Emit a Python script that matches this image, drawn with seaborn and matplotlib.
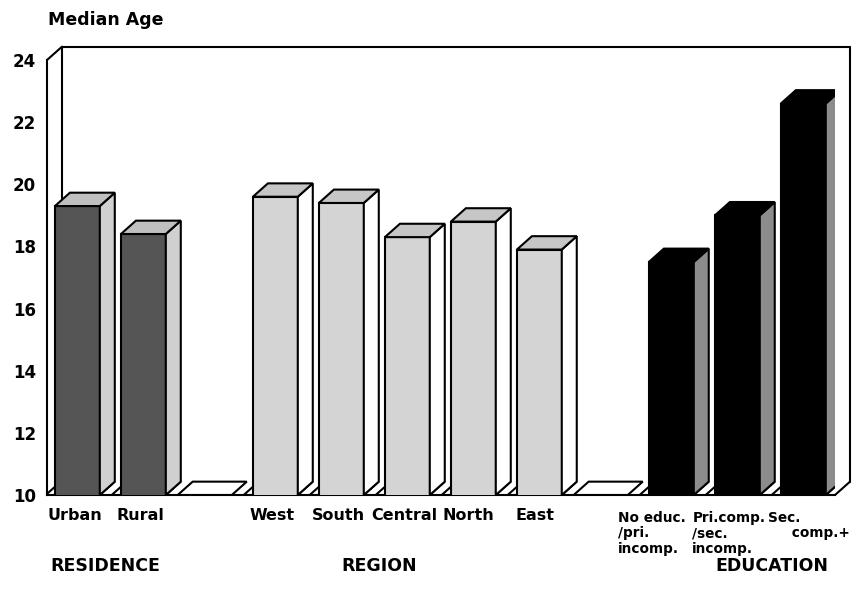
import numpy as np
import pandas as pd
import matplotlib.pyplot as plt
import seaborn as sns
from matplotlib.patches import Polygon
from matplotlib.lines import Line2D
from matplotlib.transforms import ScaledTranslation, blended_transform_factory

# data
categories = ['Urban', 'Rural', 'West', 'South', 'Central', 'North', 'East',
              'No educ.\n/pri.\nincomp.', 'Pri.comp.\n/sec.\nincomp.', 'Sec.\n     comp.+']
groups = ['RESIDENCE', 'RESIDENCE', 'REGION', 'REGION', 'REGION', 'REGION', 'REGION',
          'EDUCATION', 'EDUCATION', 'EDUCATION']
median_age = [19.3, 18.4, 19.6, 19.4, 18.3, 18.8, 17.9, 17.5, 19.0, 22.6]
group_names = ['RESIDENCE', 'REGION', 'EDUCATION']
y_ticks = [10, 12, 14, 16, 18, 20, 22, 24]

# face colours per group: front, side, top
face_colors = {
    'RESIDENCE': ('#555555', '#d0d0d0', '#c0c0c0'),
    'REGION': ('#d4d4d4', '#ffffff', '#c6c6c6'),
    'EDUCATION': ('#000000', '#8c8c8c', '#000000'),
}

# slot order: an empty slot between the groups
slot_order = []
for i, g in enumerate(group_names):
    if i > 0:
        slot_order.append('gap%d' % i)
    slot_order += [c for c, gg in zip(categories, groups) if gg == g]

df = pd.DataFrame({'label': categories, 'group': groups, 'age': median_age})
group_of = dict(zip(categories, groups))

sns.set_style('white')
plt.rcParams['font.family'] = ['DejaVu Sans']
plt.rcParams['font.weight'] = 'bold'
plt.rcParams['text.color'] = 'black'
plt.rcParams['xtick.color'] = 'black'
plt.rcParams['ytick.color'] = 'black'

fig = plt.figure(figsize=(8.58, 6.05), dpi=100)
ax = fig.add_axes([0.0548, 0.1818, 0.9184, 0.719])

bw = 0.68              # bar width
dx, dy = 0.227, 0.43   # depth offset in data units
lw = 1.5

sns.barplot(data=df, x='label', y='age', hue='group', order=slot_order,
            palette={g: face_colors[g][0] for g in group_names}, dodge=False,
            width=bw, edgecolor='black', linewidth=lw, legend=False, ax=ax, zorder=3)

ax.set_ylim(10, 24)
ax.set_xlim(-0.46, len(slot_order) - 0.52)
bars = [p for p in ax.patches]

# floor slabs under every slot
for s in range(len(slot_order)):
    xa, xb = s - 0.48, s + bw / 2
    ax.add_patch(Polygon([(xa, 10), (xb, 10), (xb + dx, 10 + dy), (xa + dx, 10 + dy)],
                         closed=True, facecolor='white', edgecolor='black', lw=lw, zorder=1))

# 3d side and top faces from each bar
for p in bars:
    x0 = p.get_x()
    x1 = x0 + p.get_width()
    v = p.get_height()
    if np.isnan(v) or v <= 0:
        continue
    g = group_of[slot_order[int(round(x0 + p.get_width() / 2))]]
    _, side_c, top_c = face_colors[g]
    ax.add_patch(Polygon([(x1, 10), (x1 + dx, 10 + dy), (x1 + dx, v + dy), (x1, v)],
                         closed=True, facecolor=side_c, edgecolor='black', lw=lw, zorder=3))
    ax.add_patch(Polygon([(x0, v), (x1, v), (x1 + dx, v + dy), (x0 + dx, v + dy)],
                         closed=True, facecolor=top_c, edgecolor='black', lw=lw, zorder=3))

# back frame of the box
x_lo, x_hi = ax.get_xlim()
frame = [
    [(x_lo + dx, 10 + dy), (x_lo + dx, 24 + dy)],
    [(x_lo, 24), (x_lo + dx, 24 + dy)],
    [(x_lo + dx, 24 + dy), (x_hi + dx, 24 + dy)],
    [(x_hi + dx, 24 + dy), (x_hi + dx, 10 + dy)],
    [(x_hi, 10), (x_hi + dx, 10 + dy)],
    [(x_lo, 10), (x_lo + dx, 10 + dy)],
]
for seg in frame:
    xs, ys = zip(*seg)
    ax.add_line(Line2D(xs, ys, color='black', lw=lw, clip_on=False, zorder=0.5))

for side in ['top', 'right']:
    ax.spines[side].set_visible(False)
for side in ['left', 'bottom']:
    ax.spines[side].set_linewidth(lw)
    ax.spines[side].set_color('black')

ax.set_yticks(y_ticks)
ax.set_yticklabels([str(t) for t in y_ticks], fontsize=12, fontweight='bold')
ax.tick_params(axis='y', length=0, pad=8)

tick_pos = [slot_order.index(c) for c in categories]
ax.set_xticks(tick_pos)
ax.set_xticklabels(categories, fontsize=11.5, fontweight='bold', va='top',
                   linespacing=1.15)
ax.tick_params(axis='x', length=0, pad=9)
label_shift = [-3, -3, -3, -3, -3, -5, -4, -53, -45, -35]
for lab, c, sh in zip(ax.get_xticklabels(), categories, label_shift):
    if '\n' in c:
        lab.set_ha('left')
        lab.set_multialignment('left')
        lab.set_fontsize(9.8)
        sh_y = -3
    else:
        sh_y = 0
    lab.set_transform(lab.get_transform() +
                      ScaledTranslation(sh / 100, sh_y / 100, fig.dpi_scale_trans))

ax.set_xlabel('')
ax.set_ylabel('')

# group captions
trans = blended_transform_factory(ax.transData, fig.transFigure)
group_x = {'RESIDENCE': 0.42, 'REGION': 4.58, 'EDUCATION': 10.52}
for g in group_names:
    ax.text(group_x[g], 1 - 566 / 605, g, transform=trans, ha='center', va='center',
            fontsize=12.5, fontweight='bold')

fig.text(48 / 858, 1 - 20 / 605, 'Median Age', ha='left', va='center',
         fontsize=12.5, fontweight='bold')

fig.savefig('out.png', dpi=100)
